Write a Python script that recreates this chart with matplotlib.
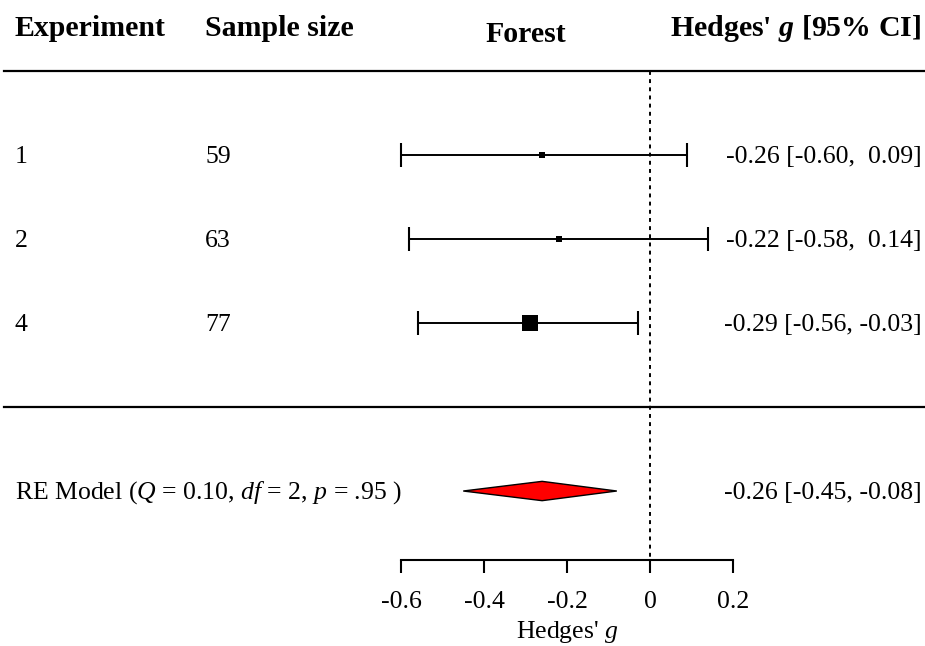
import numpy as np
import matplotlib
matplotlib.use("Agg")
import matplotlib.pyplot as plt

plt.rcParams['font.family'] = 'Liberation Serif'
plt.rcParams['mathtext.fontset'] = 'custom'
plt.rcParams['mathtext.rm'] = 'Liberation Serif'
plt.rcParams['mathtext.it'] = 'Liberation Serif:italic'
plt.rcParams['mathtext.bf'] = 'Liberation Serif:bold'
plt.rcParams['mathtext.bfit'] = 'Liberation Serif:italic:bold'

# data
experiments = ["1", "2", "4"]
sample_sizes = [59, 63, 77]
g_est = [-0.26, -0.22, -0.29]
ci_low = [-0.60, -0.58, -0.56]
ci_high = [0.09, 0.14, -0.03]

re_est = -0.26
re_low = -0.45
re_high = -0.08
re_label = r"RE Model ($Q$ = 0.10, $df$ = 2, $p$ = .95 )"

xticks = [-0.6, -0.4, -0.2, 0.0, 0.2]
xticklabels = ["-0.6", "-0.4", "-0.2", "0", "0.2"]

fig = plt.figure(figsize=(9.25, 6.46), dpi=100)
ax = fig.add_axes([0, 0, 1, 1])
ax.set_xlim(-650 / 415, 275 / 415)
ax.set_ylim(6.845, -0.845)

rows = np.arange(1, len(experiments) + 1)
re_row = 5
axis_row = 5.82

fs = 18.5
hfs = 21.5
left_x = 0.016
size_x = 0.222
right_x = 0.996

# headers
ytr = ax.get_yaxis_transform()
ax.text(left_x, -0.5, "Experiment", transform=ytr, fontsize=hfs, fontweight='bold', va='center', ha='left')
ax.text(size_x, -0.5, "Sample size", transform=ytr, fontsize=hfs, fontweight='bold', va='center', ha='left')
ax.text(-0.3, -0.44, "Forest", fontsize=hfs, fontweight='bold', va='center', ha='center')
ax.text(right_x, -0.5, r"Hedges' $\mathbfit{g}$ [95% CI]", transform=ytr, fontsize=hfs,
        fontweight='bold', va='center', ha='right')

# rules
ax.axhline(0, xmin=0.004, xmax=1, color='black', lw=1.6)
ax.axhline(4, xmin=0.004, xmax=1, color='black', lw=1.6)

# reference line
ax.plot([0, 0], [0, axis_row], color='black', lw=1.4, ls=(0, (2, 2.2)))

# study rows
se = (np.array(ci_high) - np.array(ci_low)) / 3.92
wi = 1 / se
psize = (wi - wi.min()) / (wi.max() - wi.min()) * 1.0 + 0.5

ax.errorbar(g_est, rows,
            xerr=[np.array(g_est) - np.array(ci_low), np.array(ci_high) - np.array(g_est)],
            fmt='none', ecolor='black', elinewidth=1.4, capsize=8.5, capthick=1.5)
for x, y, s in zip(g_est, rows, psize):
    ax.plot(x, y, marker='s', color='black', markersize=7.9 * s, markeredgewidth=0)

for y, e, n, g, lo, hi in zip(rows, experiments, sample_sizes, g_est, ci_low, ci_high):
    ax.text(left_x, y + 0.02, e, transform=ytr, fontsize=fs, va='center', ha='left')
    ax.text(size_x, y + 0.02, str(n), transform=ytr, fontsize=fs, va='center', ha='left')
    hi_s = f"{hi:.2f}" if hi < 0 else f" {hi:.2f}"
    ax.text(right_x, y + 0.02, f"{g:.2f} [{lo:.2f}, {hi_s}]", transform=ytr, fontsize=fs,
            va='center', ha='right')

# summary diamond
h = 0.115
ax.fill([re_low, re_est, re_high, re_est], [re_row, re_row - h, re_row, re_row + h],
        facecolor='#ff0000', edgecolor='black', lw=1.0)
ax.text(left_x, re_row + 0.02, re_label, transform=ytr, fontsize=fs, va='center', ha='left')
ax.text(right_x, re_row + 0.02, f"{re_est:.2f} [{re_low:.2f}, {re_high:.2f}]", transform=ytr,
        fontsize=fs, va='center', ha='right')

# x axis
for sp in ['top', 'left', 'right']:
    ax.spines[sp].set_visible(False)
ax.spines['bottom'].set_position(('data', axis_row))
ax.spines['bottom'].set_bounds(-0.6, 0.2)
ax.spines['bottom'].set_linewidth(1.5)
ax.set_xticks(xticks)
ax.set_xticklabels(xticklabels, fontsize=fs)
ax.tick_params(axis='x', direction='out', length=9.5, width=1.5, pad=13)
ax.set_yticks([])
ax.text(-0.2, 6.68, r"Hedges' $g$", fontsize=fs, ha='center', va='center')

fig.savefig("out.png", dpi=100)
